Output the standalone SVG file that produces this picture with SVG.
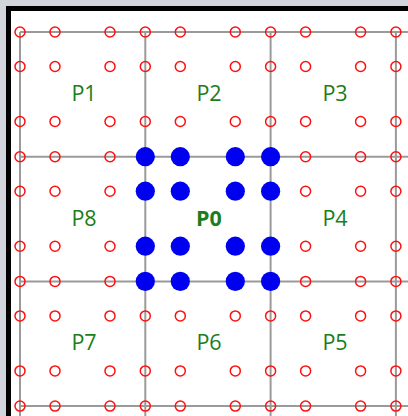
<svg xmlns="http://www.w3.org/2000/svg" xmlns:xlink="http://www.w3.org/1999/xlink" width="408" height="416" viewBox="0 0 408 416">
  <style>
    .grid { stroke: #9a9a9a; stroke-width: 2; fill: none; }
    .lbl { font-family: "Open Sans", "Noto Sans", "Liberation Sans", sans-serif; font-size: 21.5px; fill: #1b7d1b; text-anchor: middle; }
    .bold { font-weight: bold; }
  </style>
  <defs>
    <circle id="rc" r="5" fill="none" stroke="#ff1010" stroke-width="1.5"/>
    <circle id="bd" r="9.6" fill="#0000f0"/>
  </defs>

  <!-- window backdrop and framed panel -->
  <rect x="0" y="0" width="408" height="416" fill="#d3d5dd"/>
  <rect x="8.5" y="8.5" width="402" height="420" fill="#ffffff" stroke="#000000" stroke-width="5"/>

  <!-- partition grid -->
  <g id="connectors" class="grid">
    <line x1="20" y1="32" x2="20" y2="416"/>
    <line x1="145.3" y1="32" x2="145.3" y2="416"/>
    <line x1="270.6" y1="32" x2="270.6" y2="416"/>
    <line x1="395.9" y1="32" x2="395.9" y2="416"/>
    <line x1="20" y1="32" x2="408" y2="32"/>
    <line x1="20" y1="156.7" x2="408" y2="156.7"/>
    <line x1="20" y1="281.4" x2="408" y2="281.4"/>
    <line x1="20" y1="406.1" x2="408" y2="406.1"/>
  </g>

  <!-- sample points (red rings) -->
  <g id="samples">
    <!-- row y=32 -->
    <use href="#rc" x="20" y="32"/><use href="#rc" x="55" y="32"/><use href="#rc" x="110" y="32"/><use href="#rc" x="145.3" y="32"/><use href="#rc" x="180.3" y="32"/><use href="#rc" x="235.3" y="32"/><use href="#rc" x="270.6" y="32"/><use href="#rc" x="305.6" y="32"/><use href="#rc" x="360.6" y="32"/><use href="#rc" x="395.9" y="32"/>
    <!-- row y=66.5 -->
    <use href="#rc" x="20" y="66.5"/><use href="#rc" x="55" y="66.5"/><use href="#rc" x="110" y="66.5"/><use href="#rc" x="145.3" y="66.5"/><use href="#rc" x="180.3" y="66.5"/><use href="#rc" x="235.3" y="66.5"/><use href="#rc" x="270.6" y="66.5"/><use href="#rc" x="305.6" y="66.5"/><use href="#rc" x="360.6" y="66.5"/><use href="#rc" x="395.9" y="66.5"/>
    <!-- row y=121.5 -->
    <use href="#rc" x="20" y="121.5"/><use href="#rc" x="55" y="121.5"/><use href="#rc" x="110" y="121.5"/><use href="#rc" x="145.3" y="121.5"/><use href="#rc" x="180.3" y="121.5"/><use href="#rc" x="235.3" y="121.5"/><use href="#rc" x="270.6" y="121.5"/><use href="#rc" x="305.6" y="121.5"/><use href="#rc" x="360.6" y="121.5"/><use href="#rc" x="395.9" y="121.5"/>
    <!-- rows y=156.7 .. 281.4 (centre columns are filled dots) -->
    <use href="#rc" x="20" y="156.7"/><use href="#rc" x="55" y="156.7"/><use href="#rc" x="110" y="156.7"/><use href="#rc" x="305.6" y="156.7"/><use href="#rc" x="360.6" y="156.7"/><use href="#rc" x="395.9" y="156.7"/>
    <use href="#rc" x="20" y="191.2"/><use href="#rc" x="55" y="191.2"/><use href="#rc" x="110" y="191.2"/><use href="#rc" x="305.6" y="191.2"/><use href="#rc" x="360.6" y="191.2"/><use href="#rc" x="395.9" y="191.2"/>
    <use href="#rc" x="20" y="246.2"/><use href="#rc" x="55" y="246.2"/><use href="#rc" x="110" y="246.2"/><use href="#rc" x="305.6" y="246.2"/><use href="#rc" x="360.6" y="246.2"/><use href="#rc" x="395.9" y="246.2"/>
    <use href="#rc" x="20" y="281.4"/><use href="#rc" x="55" y="281.4"/><use href="#rc" x="110" y="281.4"/><use href="#rc" x="305.6" y="281.4"/><use href="#rc" x="360.6" y="281.4"/><use href="#rc" x="395.9" y="281.4"/>
    <!-- row y=315.9 -->
    <use href="#rc" x="20" y="315.9"/><use href="#rc" x="55" y="315.9"/><use href="#rc" x="110" y="315.9"/><use href="#rc" x="145.3" y="315.9"/><use href="#rc" x="180.3" y="315.9"/><use href="#rc" x="235.3" y="315.9"/><use href="#rc" x="270.6" y="315.9"/><use href="#rc" x="305.6" y="315.9"/><use href="#rc" x="360.6" y="315.9"/><use href="#rc" x="395.9" y="315.9"/>
    <!-- row y=370.9 -->
    <use href="#rc" x="20" y="370.9"/><use href="#rc" x="55" y="370.9"/><use href="#rc" x="110" y="370.9"/><use href="#rc" x="145.3" y="370.9"/><use href="#rc" x="180.3" y="370.9"/><use href="#rc" x="235.3" y="370.9"/><use href="#rc" x="270.6" y="370.9"/><use href="#rc" x="305.6" y="370.9"/><use href="#rc" x="360.6" y="370.9"/><use href="#rc" x="395.9" y="370.9"/>
    <!-- row y=406.1 -->
    <use href="#rc" x="20" y="406.1"/><use href="#rc" x="55" y="406.1"/><use href="#rc" x="110" y="406.1"/><use href="#rc" x="145.3" y="406.1"/><use href="#rc" x="180.3" y="406.1"/><use href="#rc" x="235.3" y="406.1"/><use href="#rc" x="270.6" y="406.1"/><use href="#rc" x="305.6" y="406.1"/><use href="#rc" x="360.6" y="406.1"/><use href="#rc" x="395.9" y="406.1"/>
  </g>

  <!-- partitions -->
  <g id="P1"><text class="lbl" x="84" y="101">P1</text></g>
  <g id="P2"><text class="lbl" x="209" y="101">P2</text></g>
  <g id="P3"><text class="lbl" x="335" y="101">P3</text></g>
  <g id="P8"><text class="lbl" x="84" y="225.5">P8</text></g>
  <g id="P0">
    <use href="#bd" x="145.3" y="156.7"/><use href="#bd" x="180.3" y="156.7"/><use href="#bd" x="235.3" y="156.7"/><use href="#bd" x="270.6" y="156.7"/>
    <use href="#bd" x="145.3" y="191.2"/><use href="#bd" x="180.3" y="191.2"/><use href="#bd" x="235.3" y="191.2"/><use href="#bd" x="270.6" y="191.2"/>
    <use href="#bd" x="145.3" y="246.2"/><use href="#bd" x="180.3" y="246.2"/><use href="#bd" x="235.3" y="246.2"/><use href="#bd" x="270.6" y="246.2"/>
    <use href="#bd" x="145.3" y="281.4"/><use href="#bd" x="180.3" y="281.4"/><use href="#bd" x="235.3" y="281.4"/><use href="#bd" x="270.6" y="281.4"/>
    <text class="lbl bold" x="209" y="225.5">P0</text>
  </g>
  <g id="P4"><text class="lbl" x="335" y="225.5">P4</text></g>
  <g id="P7"><text class="lbl" x="84" y="350">P7</text></g>
  <g id="P6"><text class="lbl" x="209" y="350">P6</text></g>
  <g id="P5"><text class="lbl" x="335" y="350">P5</text></g>
</svg>
